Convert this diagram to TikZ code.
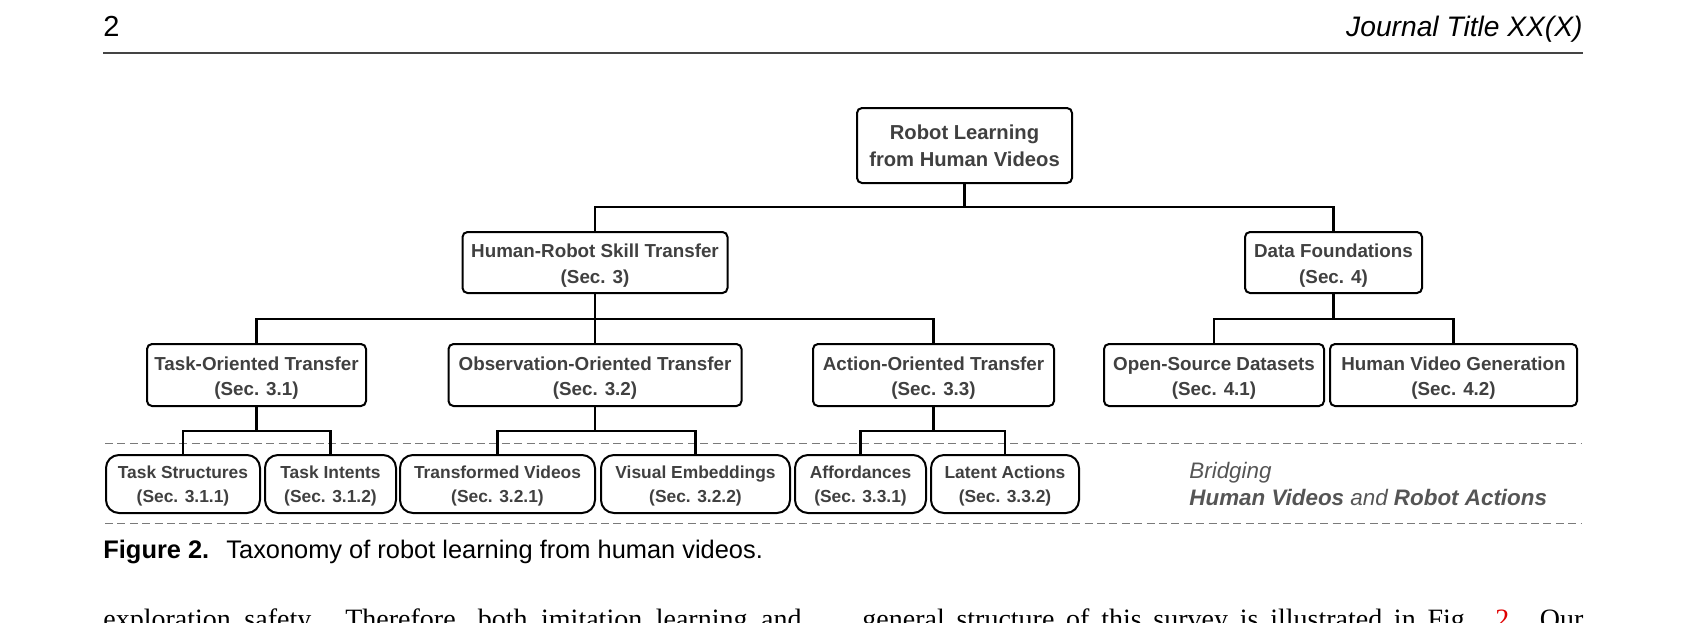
\documentclass[tikz,border=0pt]{standalone}
\usepackage{fontspec}
\setmainfont{Liberation Sans}
\newfontfamily\serifbody{Liberation Serif}
\usetikzlibrary{calc}
\definecolor{txtgray}{HTML}{404040}
\definecolor{sepgray}{HTML}{7A7A7A}
\definecolor{rulegray}{HTML}{444444}
\definecolor{bridgegray}{HTML}{555555}
\definecolor{refred}{HTML}{E00000}
\newcommand{\boxstrut}{\rule{0pt}{10pt}}
\newcommand{\leafstrut}{\rule{0pt}{8.4pt}}
\tikzset{
  boxbase/.style={draw=black, line width=1pt, rounded corners=2.5pt, fill=white, text=txtgray,
    align=center, inner sep=0pt},
  box/.style={boxbase, font=\bfseries\fontsize{9.4}{12.9}\selectfont},
  rootbox/.style={boxbase, font=\bfseries\fontsize{10.1}{13.5}\selectfont},
  leaf/.style={boxbase, rounded corners=6.5pt, font=\bfseries\fontsize{8.7}{12.35}\selectfont},
  conn/.style={line width=1.25pt, draw=black},
  sepline/.style={draw=sepgray, line width=0.5pt, dash pattern=on 4pt off 2.2pt},
  plain/.style={inner sep=0pt, anchor=base west},
}
\begin{document}
\begin{tikzpicture}[x=0.5pt,y=-0.5pt]
\useasboundingbox (0,0) rectangle (1684,622);
\clip (0,0) rectangle (1684,622);

% header
\node[plain, font=\fontsize{14.5}{17}\selectfont] (pnum) at (103,36) {2};
\node[plain, anchor=base east, font=\itshape\fontsize{14.1}{17}\selectfont] (jt) at (1583,36) {Journal Title XX(X)};
\coordinate (rl) at (103,53);
\coordinate (rr) at (1583,53);
\draw[rulegray, line width=0.6pt] (rl) -- (rr);

% separators
\coordinate (s1l) at (105,443.5);
\coordinate (s1r) at (1582,443.5);
\coordinate (s2l) at (105,523);
\coordinate (s2r) at (1582,523);
\draw[sepline] (s1l) -- (s1r);
\draw[sepline] (s2l) -- (s2r);

% nodes
\node[rootbox, minimum width=107.5pt, minimum height=37.5pt] (root) at (964.5,145.5) {Robot Learning\\from Human Videos};

\node[box, minimum width=132.5pt, minimum height=30.5pt] (hr) at (595,262.5) {\boxstrut Human-Robot Skill Transfer\\(Sec. 3)};
\node[box, minimum width=88.5pt, minimum height=30.5pt] (df) at (1333.5,262.5) {\boxstrut Data Foundations\\(Sec. 4)};

\node[box, minimum width=109.5pt, minimum height=31pt] (to) at (256.5,375) {\boxstrut Task-Oriented Transfer\\(Sec. 3.1)};
\node[box, minimum width=146.5pt, minimum height=31pt] (oo) at (595,375) {\boxstrut Observation-Oriented Transfer\\(Sec. 3.2)};
\node[box, minimum width=120.5pt, minimum height=31pt] (ao) at (933.5,375) {\boxstrut Action-Oriented Transfer\\(Sec. 3.3)};
\node[box, minimum width=110pt, minimum height=31pt] (os) at (1214,375) {\boxstrut Open-Source Datasets\\(Sec. 4.1)};
\node[box, minimum width=123.5pt, minimum height=31pt] (hv) at (1453.5,375) {\boxstrut Human Video Generation\\(Sec. 4.2)};

\node[leaf, minimum width=77pt, minimum height=29pt] (ts) at (183,484) {\leafstrut Task Structures\\(Sec. 3.1.1)};
\node[leaf, minimum width=65.5pt, minimum height=29pt] (ti) at (330.5,484) {\leafstrut Task Intents\\(Sec. 3.1.2)};
\node[leaf, minimum width=97.5pt, minimum height=29pt] (tv) at (497.5,484) {\leafstrut Transformed Videos\\(Sec. 3.2.1)};
\node[leaf, minimum width=94.5pt, minimum height=29pt] (ve) at (695.5,484) {\leafstrut Visual Embeddings\\(Sec. 3.2.2)};
\node[leaf, minimum width=65.5pt, minimum height=29pt] (af) at (860.5,484) {\leafstrut Affordances\\(Sec. 3.3.1)};
\node[leaf, minimum width=74pt, minimum height=29pt] (la) at (1005,484) {\leafstrut Latent Actions\\(Sec. 3.3.2)};

% connectors
\coordinate (bar0) at (0,207);
\coordinate (bar1) at (0,319);
\coordinate (bar2) at (0,431);
\draw[conn] (root.south) -- (root.south |- bar0) -| (hr.north);
\draw[conn] (root.south |- bar0) -| (df.north);

\draw[conn] (hr.south) -- (hr.south |- bar1) -| (to.north);
\draw[conn] (hr.south |- bar1) -| (ao.north);
\draw[conn] (hr.south |- bar1) -- (oo.north);
\draw[conn] (df.south) -- (df.south |- bar1) -| (os.north);
\draw[conn] (df.south |- bar1) -| (hv.north);

\draw[conn] (to.south) -- (to.south |- bar2) -| (ts.north);
\draw[conn] (to.south |- bar2) -| (ti.north);
\draw[conn] (oo.south) -- (oo.south |- bar2) -| (tv.north);
\draw[conn] (oo.south |- bar2) -| (ve.north);
\draw[conn] (ao.south) -- (ao.south |- bar2) -| (af.north);
\draw[conn] (ao.south |- bar2) -| (la.north);

% bridging label
\node[plain, text=bridgegray, font=\itshape\fontsize{11.2}{13}\selectfont] (br1) at (1189,478) {Bridging};
\node[plain, text=bridgegray, font=\bfseries\itshape\fontsize{11.2}{13}\selectfont] (br2) at (1189,505) {Human Videos {\mdseries and} Robot Actions};

% caption
\node[plain, font=\bfseries\fontsize{12.7}{15}\selectfont] (cap1) at (103,558) {Figure 2.};
\node[plain, font=\fontsize{12.7}{15}\selectfont] (cap2) at (226,558) {Taxonomy of robot learning from human videos.};

% body text (cut off by the page edge, as in the reference)
\node[plain, font=\serifbody\fontsize{14}{17}\selectfont] (b1) at (103,628) {\makebox[349pt][s]{exploration safety. Therefore, both imitation learning and}};
\node[plain, font=\serifbody\fontsize{14}{17}\selectfont] (b2) at (862,628) {\makebox[360.5pt][s]{general structure of this survey is illustrated in Fig. \textcolor{refred}{2}. Our}};
\end{tikzpicture}
\end{document}
